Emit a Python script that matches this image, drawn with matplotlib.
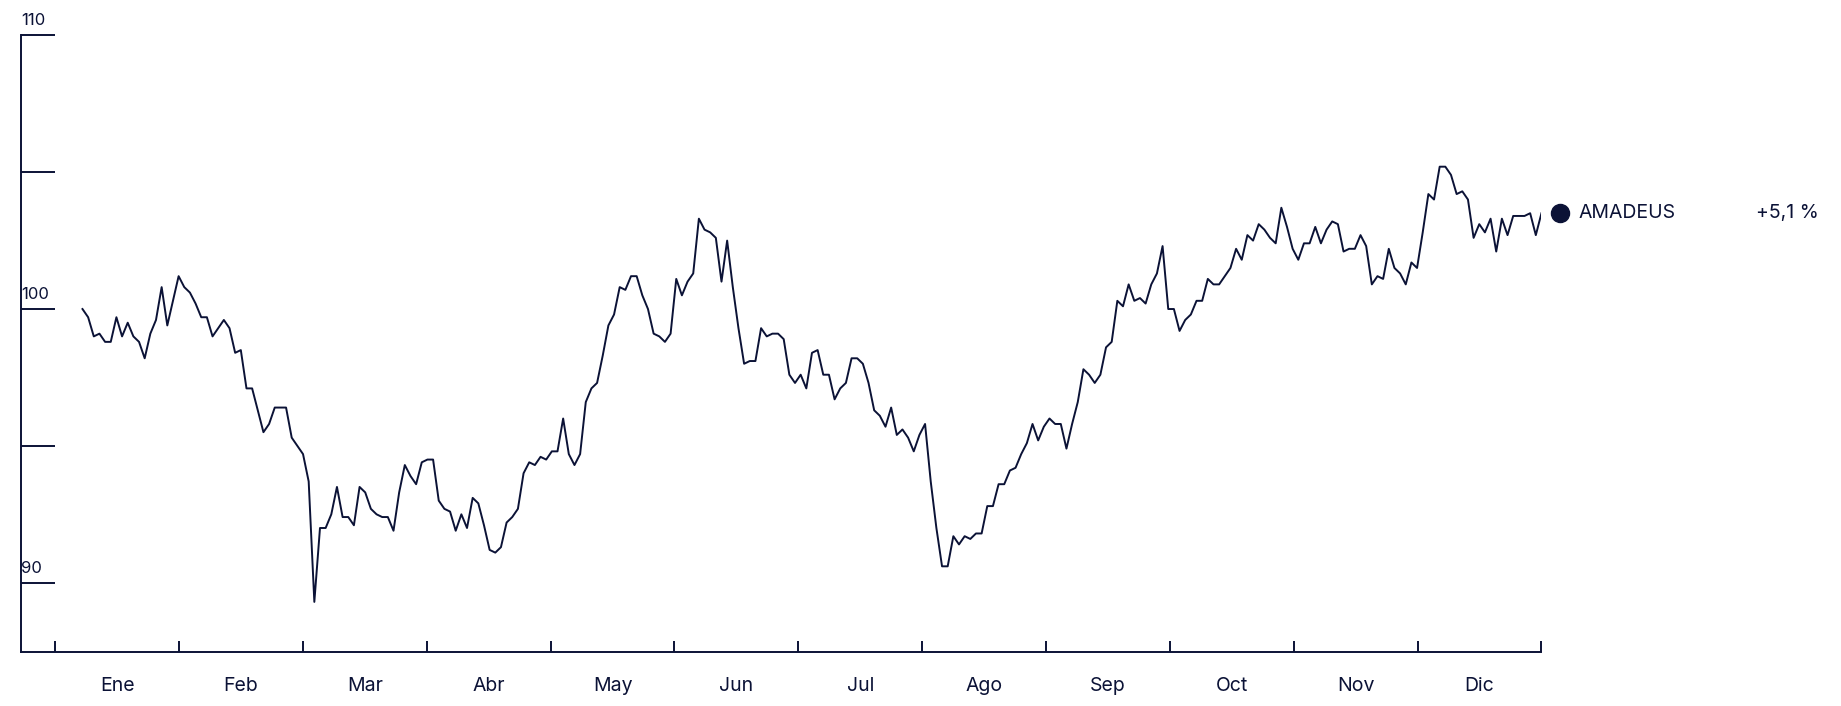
import numpy as np
import matplotlib.pyplot as plt

plt.rcParams['font.family'] = ['Inter', 'DejaVu Sans']
NAVY = '#0b1236'

months = ['Ene', 'Feb', 'Mar', 'Abr', 'May', 'Jun', 'Jul', 'Ago', 'Sep', 'Oct', 'Nov', 'Dic']
series_name = 'AMADEUS'
change_label = '+5,1 %'
y_labels = [110, 100, 90]

# índice base 100 (aprox. un punto por sesión)
values = [
    100.0, 99.7, 99.0, 99.1, 98.8, 98.8, 99.7, 99.0, 99.5, 99.0, 98.8, 98.2, 99.1, 99.6, 100.8,
    99.4, 100.3, 101.2, 100.8, 100.6, 100.2, 99.7, 99.7, 99.0, 99.3, 99.6, 99.3, 98.4, 98.5,
    97.1, 97.1, 96.3, 95.5, 95.8, 96.4, 96.4, 96.4, 95.3, 95.0, 94.7, 93.7, 89.3, 92.0, 92.0,
    92.5, 93.5, 92.4, 92.4, 92.1, 93.5, 93.3, 92.7, 92.5, 92.4, 92.4, 91.9, 93.3, 94.3, 93.9,
    93.6, 94.4, 94.5, 94.5, 93.0, 92.7, 92.6, 91.9, 92.5, 92.0, 93.1, 92.9, 92.1, 91.2, 91.1,
    91.3, 92.2, 92.4, 92.7, 94.0, 94.4, 94.3, 94.6, 94.5, 94.8, 94.8, 96.0, 94.7, 94.3, 94.7,
    96.6, 97.1, 97.3, 98.3, 99.4, 99.8, 100.8, 100.7, 101.2, 101.2, 100.5, 100.0, 99.1, 99.0,
    98.8, 99.1, 101.1, 100.5, 101.0, 101.3, 103.3, 102.9, 102.8, 102.6, 101.0, 102.5, 100.8,
    99.3, 98.0, 98.1, 98.1, 99.3, 99.0, 99.1, 99.1, 98.9, 97.6, 97.3, 97.6, 97.1, 98.4, 98.5,
    97.6, 97.6, 96.7, 97.1, 97.3, 98.2, 98.2, 98.0, 97.3, 96.3, 96.1, 95.7, 96.4, 95.4, 95.6,
    95.3, 94.8, 95.4, 95.8, 93.7, 92.0, 90.6, 90.6, 91.7, 91.4, 91.7, 91.6, 91.8, 91.8, 92.8,
    92.8, 93.6, 93.6, 94.1, 94.2, 94.7, 95.1, 95.8, 95.2, 95.7, 96.0, 95.8, 95.8, 94.9, 95.8,
    96.6, 97.8, 97.6, 97.3, 97.6, 98.6, 98.8, 100.3, 100.1, 100.9, 100.3, 100.4, 100.2, 100.9,
    101.3, 102.3, 100.0, 100.0, 99.2, 99.6, 99.8, 100.3, 100.3, 101.1, 100.9, 100.9, 101.2,
    101.5, 102.2, 101.8, 102.7, 102.5, 103.1, 102.9, 102.6, 102.4, 103.7, 103.0, 102.2, 101.8,
    102.4, 102.4, 103.0, 102.4, 102.9, 103.2, 103.1, 102.1, 102.2, 102.2, 102.7, 102.3, 100.9,
    101.2, 101.1, 102.2, 101.5, 101.3, 100.9, 101.7, 101.5, 102.8, 104.2, 104.0, 105.2, 105.2,
    104.9, 104.2, 104.3, 104.0, 102.6, 103.1, 102.8, 103.3, 102.1, 103.3, 102.7, 103.4, 103.4,
    103.4, 103.5, 102.7, 103.5,
]

# eje x en meses (0 = 1 de enero, 12 = 31 de diciembre)
x = np.linspace(0.22, 12.0, len(values))

fig = plt.figure(figsize=(18.41, 7.06), dpi=100)
ax = fig.add_axes([0.0115, 0.0765, 0.8258, 0.8735])
ax.plot(x, values, color=NAVY, lw=1.4)
ax.set_xlim(-0.275, 12.0)
ax.set_ylim(87.47, 110)

for s in ['top', 'right']:
    ax.spines[s].set_visible(False)
for s in ['left', 'bottom']:
    ax.spines[s].set_color(NAVY)
    ax.spines[s].set_linewidth(1.4)

ax.set_yticks([90, 95, 100, 105, 110])
ax.set_yticklabels([])
ax.tick_params(axis='y', direction='in', length=24.5, width=1.4, color=NAVY)
for v in y_labels:
    ax.text(0.0, v + 0.25, str(v), transform=ax.get_yaxis_transform(), ha='left', va='bottom',
            fontsize=12, color=NAVY)

ax.set_xticks(np.arange(13))
ax.set_xticklabels([])
ax.tick_params(axis='x', direction='in', length=8, width=1.4, color=NAVY)
for i, m in enumerate(months):
    ax.text(i + 0.5, -0.04, m, transform=ax.get_xaxis_transform(), ha='center', va='top',
            fontsize=14, color=NAVY)

# etiqueta de la serie
ax.plot([12.15], [values[-1]], 'o', ms=13, color=NAVY, clip_on=False)
ax.text(12.3, values[-1], series_name, ha='left', va='center', fontsize=14, color=NAVY)
fig.text(0.988, ax.transData.transform((0, values[-1]))[1] / fig.bbox.height, change_label,
         ha='right', va='center', fontsize=14, color=NAVY)

fig.savefig('out.png', dpi=100)
